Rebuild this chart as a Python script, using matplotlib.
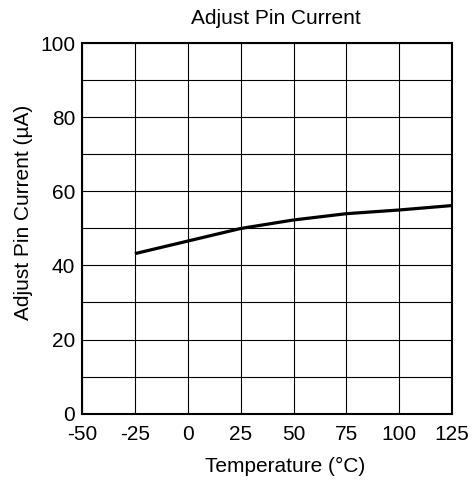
import numpy as np
import matplotlib.pyplot as plt

plt.rcParams['font.family'] = ['Liberation Sans', 'DejaVu Sans']
plt.rcParams['axes.unicode_minus'] = False

# data
temperature = [-25, 25, 50, 75, 100, 125]
adj_current = [43.2, 50.0, 52.3, 54.0, 55.0, 56.2]

x_ticks = [-50, -25, 0, 25, 50, 75, 100, 125]
y_ticks = [0, 20, 40, 60, 80, 100]
y_grid = np.arange(0, 101, 10)

fig = plt.figure(figsize=(4.74, 4.8), dpi=100)
ax = fig.add_axes([0.173, 0.1385, 0.781, 0.771])

ax.plot(temperature, adj_current, color='black', lw=2.3, solid_capstyle='butt')

ax.set_xlim(-50, 125)
ax.set_ylim(0, 100)
ax.set_xticks(x_ticks)
ax.set_yticks(y_ticks)
ax.set_yticks(y_grid, minor=True)
ax.grid(True, which='both', color='black', lw=0.8)
ax.tick_params(which='both', length=0, labelsize=15)
ax.tick_params(axis='x', pad=8)
ax.tick_params(axis='y', pad=5)
for s in ax.spines.values():
    s.set_linewidth(1.5)

ax.set_xlabel('Temperature (°C)', fontsize=15)
ax.xaxis.set_label_coords(0.549, -0.117)
ax.set_ylabel('Adjust Pin Current (µA)', fontsize=15)
ax.yaxis.set_label_coords(-0.133, 0.543)
ax.set_title('Adjust Pin Current', fontsize=15, x=0.524, pad=14)

fig.savefig('out.png', dpi=100)
